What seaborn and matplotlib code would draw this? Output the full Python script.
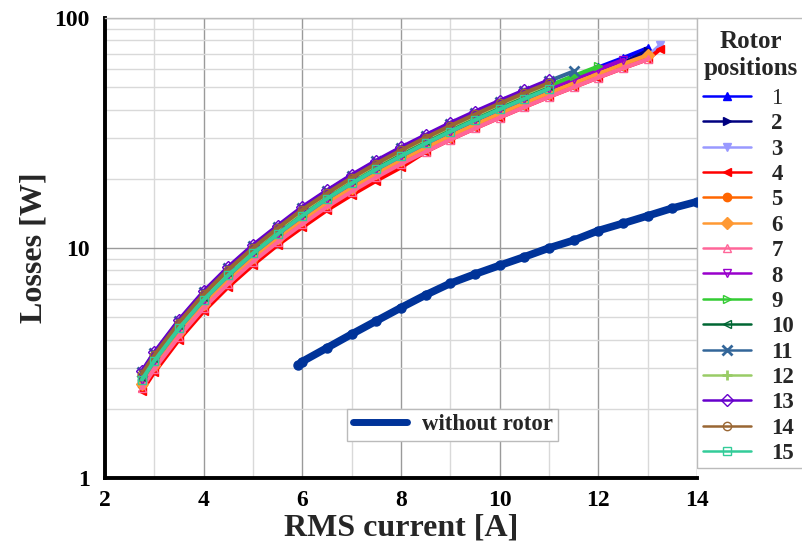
import matplotlib
matplotlib.use("Agg")
import matplotlib.pyplot as plt
import matplotlib.patches as mpatches
import seaborn as sns
from matplotlib.ticker import MultipleLocator, LogLocator, NullFormatter, FixedLocator, FixedFormatter
from matplotlib.lines import Line2D

# ---------------- data ----------------
current = [2.75, 3.0, 3.5, 4.0, 4.5, 5.0, 5.5, 6.0, 6.5, 7.0, 7.5, 8.0, 8.5,
           9.0, 9.5, 10.0, 10.5, 11.0, 11.5, 12.0, 12.5, 13.0, 13.25]

loss_pos1 = [2.73, 3.30, 4.56, 6.07, 7.76, 9.66, 11.7, 14.1, 16.7, 19.5, 22.5, 25.6,
             29.0, 32.8, 36.7, 40.9, 45.4, 50.3, 55.4, 61.0, 67.0, 74.0]
loss_pos2 = [2.60, 3.14, 4.34, 5.77, 7.38, 9.19, 11.2, 13.4, 15.9, 18.5, 21.4, 24.4,
             27.6, 31.2, 34.9, 38.9, 43.2, 47.8, 52.7, 58.0, 63.7, 72.0]
loss_pos3 = [2.49, 3.01, 4.16, 5.54, 7.08, 8.82, 10.7, 12.9, 15.2, 17.8, 20.5, 23.4,
             26.5, 29.9, 33.5, 37.3, 41.5, 45.9, 50.6, 55.6, 61.1, 68.0, 76.0]
loss_pos4 = [2.39, 2.88, 3.99, 5.30, 6.78, 8.44, 10.3, 12.3, 14.6, 17.0, 19.6, 22.4,
             26.2, 29.6, 33.1, 36.9, 41.0, 45.4, 50.0, 55.1, 60.5, 66.1, 73.0]
loss_pos5 = [2.54, 3.07, 4.25, 5.65, 7.23, 9.00, 10.9, 13.2, 15.6, 18.1, 20.9, 23.9,
             27.1, 30.5, 34.2, 38.1, 42.3, 46.8, 51.6, 56.8, 62.4, 68.3]
loss_pos6 = [2.57, 3.10, 4.30, 5.71, 7.30, 9.10, 11.1, 13.3, 15.7, 18.3, 21.1, 24.2,
             27.4, 30.8, 34.5, 38.5, 42.8, 47.3, 52.2, 57.4, 63.1, 69.0]
loss_pos7 = [2.46, 2.98, 4.12, 5.48, 7.00, 8.72, 10.6, 12.7, 15.1, 17.6, 20.3, 23.2,
             26.2, 29.6, 33.1, 36.9, 41.0, 45.4, 50.0, 55.1, 60.5, 66.1]
loss_pos8 = [2.68, 3.23, 4.47, 5.95, 7.61, 9.47, 11.5, 13.8, 16.4, 19.1, 22.0, 25.1,
             28.5, 32.1, 36.0, 40.1, 44.5, 49.3, 54.3, 59.8, 65.7]
loss_pos9 = [2.76, 3.33, 4.61, 6.13, 7.83, 9.76, 11.9, 14.2, 16.8, 19.7, 22.7, 25.9,
             29.3, 33.1, 37.0, 41.3, 45.9, 50.8, 56.0, 61.6]
loss_pos10 = [2.76, 3.33, 4.61, 6.13, 7.83, 9.76, 11.9, 14.2, 16.8, 19.7, 22.7, 25.9,
              29.3, 33.1, 37.0, 41.3, 45.9, 50.8]
loss_pos11 = [2.89, 3.49, 4.83, 6.42, 8.21, 10.2, 12.4, 14.9, 17.7, 20.6, 23.8, 27.1,
              30.7, 34.7, 38.8, 43.3, 48.1, 53.2, 58.6]
loss_pos12 = [2.81, 3.39, 4.70, 6.24, 7.98, 9.94, 12.1, 14.5, 17.2, 20.0, 23.1, 26.4,
              29.9, 33.7, 37.7, 42.1, 46.7, 51.7]
loss_pos13 = [2.92, 3.52, 4.87, 6.48, 8.28, 10.3, 12.5, 15.1, 17.8, 20.8, 24.0, 27.4,
              31.0, 35.0, 39.2, 43.7, 48.5, 53.7]
loss_pos14 = [2.84, 3.42, 4.74, 6.30, 8.06, 10.0, 12.2, 14.7, 17.3, 20.2, 23.3, 26.6,
              30.2, 34.0, 38.1, 42.5, 47.2, 52.2]
loss_pos15 = [2.68, 3.23, 4.47, 5.95, 7.61, 9.47, 11.5, 13.8, 16.4, 19.1, 22.0, 25.1,
              28.5, 32.1, 36.0, 40.1, 44.5, 49.3]

rotor_losses = [loss_pos1, loss_pos2, loss_pos3, loss_pos4, loss_pos5, loss_pos6,
                loss_pos7, loss_pos8, loss_pos9, loss_pos10, loss_pos11, loss_pos12,
                loss_pos13, loss_pos14, loss_pos15]
rotor_labels = [str(i) for i in range(1, 16)]

without_rotor_current = [5.92, 6.0, 6.5, 7.0, 7.5, 8.0, 8.5, 9.0, 9.5, 10.0, 10.5,
                         11.0, 11.5, 12.0, 12.5, 13.0, 13.5, 14.0]
without_rotor_losses = [3.10, 3.21, 3.68, 4.22, 4.82, 5.50, 6.25, 7.02, 7.70, 8.40,
                        9.15, 10.0, 10.8, 11.9, 12.8, 13.8, 14.9, 15.9]

# ---------------- styles ----------------
colors = ['#0000FF', '#000080', '#9999FF', '#FF0000', '#FF6600', '#FF9933',
          '#FF6699', '#9900CC', '#33CC33', '#006633', '#336699', '#99CC66',
          '#6600CC', '#996633', '#33CC99']
markers = ['^', '>', 'v', '<', 'o', 'D', '^', 'v', '>', '<', 'x', '+', 'D', 'o', 's']
filled = [True, True, True, True, True, True, False, False, False, False,
          True, True, False, False, False]

sns.set_theme(style="white")
plt.rcParams['font.family'] = ['Liberation Serif', 'DejaVu Serif']
plt.rcParams['font.weight'] = 'bold'
plt.rcParams['axes.labelweight'] = 'bold'

fig = plt.figure(figsize=(8.03, 5.59), dpi=100)
ax = fig.add_axes([105 / 803, 1 - 478 / 559, 592 / 803, 460 / 559])

for i, (ys, lab) in enumerate(zip(rotor_losses, rotor_labels)):
    xs = current[:len(ys)]
    c = colors[i]
    mk = markers[i]
    mew = 2.0 if mk in ('x', '+') else 1.0
    ms = 6.5 if mk in ('x', '+') else 6
    sns.lineplot(x=xs, y=ys, ax=ax, color=c, marker=mk, markersize=ms,
                 markerfacecolor=(c if filled[i] else 'none'),
                 markeredgecolor=c, markeredgewidth=mew, linewidth=2.9,
                 label=lab, sort=False, estimator=None, errorbar=None,
                 zorder=3 + i * 0.01)

sns.lineplot(x=without_rotor_current, y=without_rotor_losses, ax=ax,
             color='#003399', marker='o', markersize=6.5, markerfacecolor='#003399',
             markeredgecolor='#003399', markeredgewidth=1, linewidth=5.5,
             label='without rotor', sort=False, estimator=None, errorbar=None, zorder=4)

ax.set_yscale('log')
ax.set_xlim(2, 14)
ax.set_ylim(1, 100)
ax.xaxis.set_major_locator(MultipleLocator(2))
ax.xaxis.set_minor_locator(MultipleLocator(1))
ax.yaxis.set_major_locator(FixedLocator([1, 10, 100]))
ax.yaxis.set_major_formatter(FixedFormatter(['1', '10', '100']))
ax.yaxis.set_minor_locator(LogLocator(base=10, subs=range(2, 10)))
ax.yaxis.set_minor_formatter(NullFormatter())

ax.set_axisbelow(True)
ax.grid(which='major', color='#9a9a9a', linewidth=1.0)
ax.grid(which='minor', color='#d9d9d9', linewidth=1.0)

for s in ('left', 'bottom'):
    ax.spines[s].set_color('black')
    ax.spines[s].set_linewidth(2.8)
ax.spines['top'].set_color('#bbbbbb')
ax.spines['top'].set_linewidth(1)
ax.spines['right'].set_visible(False)

ax.tick_params(axis='both', which='major', direction='in', length=10, width=2,
               labelsize=17, colors='black')
ax.tick_params(axis='both', which='minor', direction='in', length=5, width=2, colors='black')
ax.tick_params(axis='x', which='major', pad=9)
ax.tick_params(axis='y', which='major', pad=11)
ax.tick_params(top=False, right=False, which='both')

ax.set_xlabel('RMS current [A]', fontsize=23, fontweight='bold')
ax.set_ylabel('Losses [W]', fontsize=23, fontweight='bold')
ax.xaxis.set_label_coords(0.5, -0.077)
ax.yaxis.set_label_coords(-0.096, 0.5)

# ---- right-hand legend: box, title, entries ----
box = mpatches.Rectangle((697 / 803, 1 - 468 / 559), 120 / 803, 450 / 559,
                         transform=fig.transFigure, facecolor='none',
                         edgecolor='#bbbbbb', linewidth=1, zorder=-1, clip_on=False)
fig.add_artist(box)
fig.text(751 / 803, 1 - 55 / 559, 'Rotor\npositions', ha='center', va='center',
         multialignment='center', fontsize=18, fontweight='bold', linespacing=1.25)

handles, labels = ax.get_legend_handles_labels()
leg1 = ax.legend(handles[:15], labels[:15], loc='lower left',
                 bbox_to_anchor=(1.0, (478 - 470) / 460), borderaxespad=0,
                 frameon=False, prop={'weight': 'bold', 'size': 16.5},
                 handlelength=2.1, handletextpad=0.9, labelspacing=0.19,
                 borderpad=0.25)
leg1.get_texts()[0].set_fontweight('normal')
for ln in leg1.get_lines():
    ln.set_linewidth(1.8)
ax.add_artist(leg1)

proxy = Line2D([], [], color='#003399', linewidth=5, solid_capstyle='round')
leg2 = ax.legend([proxy], ['without rotor'], loc='lower left',
                 bbox_to_anchor=(0.409, 0.08), borderaxespad=0, frameon=True,
                 fancybox=False, edgecolor='#bbbbbb', framealpha=1,
                 prop={'weight': 'bold', 'size': 16.5}, handlelength=2.35,
                 handletextpad=0.65, borderpad=0.25)
leg2.get_frame().set_linewidth(1)

fig.savefig('out.png', dpi=100)
